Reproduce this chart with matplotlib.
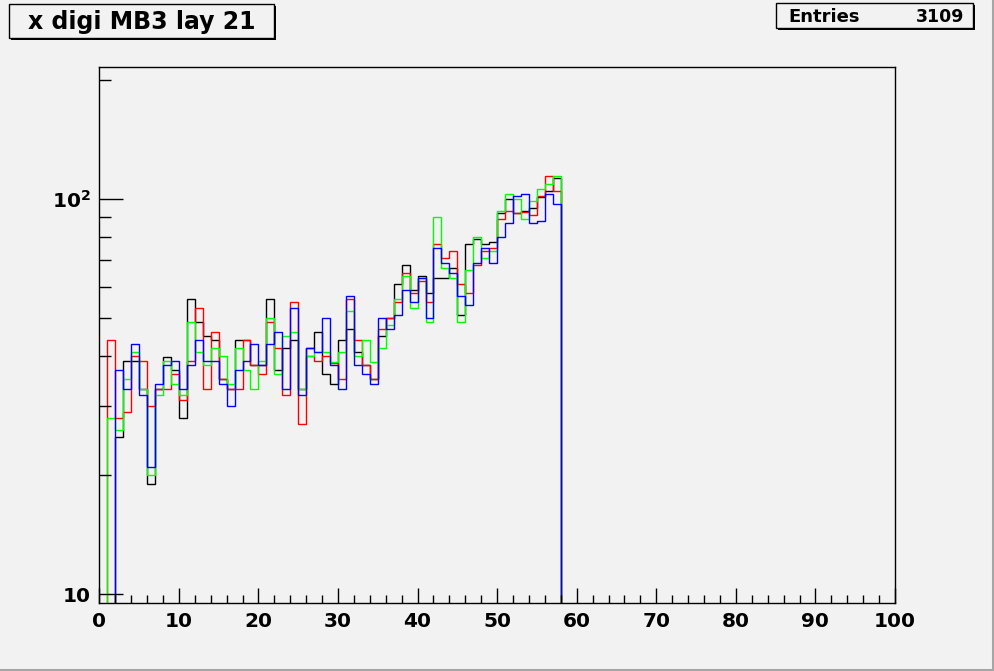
import numpy as np
import matplotlib
matplotlib.use("Agg")
import matplotlib.pyplot as plt
from matplotlib.patches import Rectangle

plt.rcParams['font.family'] = ['DejaVu Sans']
plt.rcParams['mathtext.fontset'] = 'custom'
plt.rcParams['mathtext.bf'] = 'DejaVu Sans:bold'
plt.rcParams['mathtext.rm'] = 'DejaVu Sans:bold'

title = "x digi MB3 lay 21"
entries = 3109
nbins = 100
xmin, xmax = 0, 100

black = [0, 0, 25.0, 38.9, 38.9, 33.0, 19.0, 33.0, 39.9, 36.9, 28.0, 55.8, 48.8, 45.0, 44.0,
         35.0, 33.0, 44.0, 44.0, 38.0, 38.0, 55.8, 36.9, 42.0, 44.0, 33.0, 42.0, 46.1, 36.0,
         34.0, 44.0, 46.9, 41.0, 38.0, 35.0, 45.0, 50.0, 60.9, 68.1, 58.8, 63.9, 57.8, 63.1,
         63.1, 66.9, 50.8, 76.9, 79.2, 76.9, 77.8, 92.2, 100.0, 92.2, 93.2, 94.9, 101.0, 105.0, 113.0]
red = [0, 44.0, 28.0, 28.9, 40.1, 38.9, 29.9, 33.0, 33.1, 36.1, 31.0, 38.9, 53.0, 33.1, 46.1,
       35.0, 33.0, 33.0, 44.0, 38.0, 36.0, 48.8, 42.0, 31.9, 54.9, 26.9, 40.0, 39.0, 40.0,
       38.5, 35.0, 55.8, 44.0, 38.0, 35.0, 46.9, 50.0, 54.9, 65.0, 57.8, 62.0, 54.9, 76.9,
       70.9, 73.9, 60.9, 57.8, 68.1, 73.9, 75.2, 89.0, 93.2, 92.0, 93.0, 91.1, 101.8, 114.3, 104.8]
green = [0, 28.0, 26.0, 35.0, 41.1, 33.1, 20.0, 31.9, 38.9, 34.0, 31.9, 48.8, 41.1, 38.1, 42.0,
         40.0, 34.0, 42.0, 36.9, 33.0, 38.9, 50.0, 36.0, 45.0, 46.1, 33.0, 40.0, 41.0, 41.0,
         38.8, 41.0, 52.1, 40.0, 44.0, 38.8, 42.0, 48.0, 55.8, 63.9, 53.0, 63.0, 48.8, 90.0,
         66.9, 63.1, 48.8, 66.1, 80.1, 70.9, 73.9, 93.2, 103.0, 100.0, 89.0, 98.8, 106.0, 109.1, 114.3]
blue = [0, 0, 36.9, 33.1, 43.0, 31.9, 21.0, 34.0, 38.1, 38.9, 33.1, 38.1, 44.0, 38.9, 38.9,
        34.0, 29.9, 36.9, 38.9, 42.9, 38.0, 42.9, 46.1, 33.0, 53.0, 31.9, 42.0, 41.0, 50.0,
        38.0, 33.0, 56.8, 38.0, 36.0, 34.0, 50.0, 46.9, 50.8, 58.8, 54.9, 63.1, 50.0, 75.2,
        68.9, 65.0, 56.8, 53.9, 68.9, 75.2, 68.9, 80.1, 86.9, 101.8, 103.0, 86.9, 88.0, 103.0, 97.1]

series = [(black, 'black'), (red, '#ff0000'), (green, '#00ff00'), (blue, '#0000ff')]

W, H = 995, 671
bg = '#f2f2f2'
fig = plt.figure(figsize=(W / 100, H / 100), dpi=100, facecolor=bg)

def fx(px):
    return px / W

def fy(py):
    return 1 - py / H

L, R, T, B = 99.3, 895.0, 67.0, 602.7
ax = fig.add_axes([fx(L), fy(B), fx(R) - fx(L), fy(T) - fy(B)], facecolor=bg)

edges = np.linspace(xmin, xmax, nbins + 1)
for vals, col in series:
    v = np.zeros(nbins)
    v[:len(vals)] = vals
    v = np.where(v > 0, v, 1e-2)
    ax.stairs(v, edges, color=col, lw=1.0, baseline=None)

ax.set_yscale('log')
ax.set_xlim(xmin, xmax)
ax.set_ylim(9.52, 216)

for s in ax.spines.values():
    s.set_color('black')
    s.set_linewidth(1.0)

ax.set_xticks(np.arange(0, 101, 10))
ax.set_xticklabels([str(t) for t in range(0, 101, 10)], fontweight='bold', fontsize=14.5)
ax.set_xticks(np.arange(0, 101, 2), minor=True)
ax.set_yticks([10, 100])
ax.set_yticklabels(['10', r'$\mathbf{10^{2}}$'], fontsize=14.5, fontweight='bold')
ax.set_yticks([20, 30, 40, 50, 60, 70, 80, 90, 200], minor=True)
ax.yaxis.set_minor_formatter(matplotlib.ticker.NullFormatter())
ax.tick_params(axis='x', which='major', direction='in', length=11, width=1, pad=7, top=False)
ax.tick_params(axis='x', which='minor', direction='in', length=5.5, width=1, top=False)
ax.tick_params(axis='y', which='major', direction='in', length=17, width=1, pad=6, right=False)
ax.tick_params(axis='y', which='minor', direction='in', length=8.5, width=1, right=False)

def box(x0, y0, x1, y1):
    sh = Rectangle((fx(x0 + 2), fy(y1 + 2)), fx(x1) - fx(x0), fy(y0) - fy(y1),
                   transform=fig.transFigure, facecolor='black', edgecolor='black', lw=0)
    fig.add_artist(sh)
    r = Rectangle((fx(x0), fy(y1)), fx(x1) - fx(x0), fy(y0) - fy(y1),
                  transform=fig.transFigure, facecolor=bg, edgecolor='black', lw=1.0)
    fig.add_artist(r)

box(9, 4, 274, 37.5)
fig.text(fx(142), fy(21.5), title, ha='center', va='center', fontsize=17, fontweight='bold')

box(776.5, 3.5, 973, 28)
fig.text(fx(788), fy(16.5), 'Entries', ha='left', va='center', fontsize=13, fontweight='bold')
fig.text(fx(964), fy(16.5), str(entries), ha='right', va='center', fontsize=12.5, fontweight='bold')

fig.add_artist(plt.Line2D([fx(993.5), fx(993.5)], [fy(0), fy(671)], transform=fig.transFigure, color='#a6a6a6', lw=2.2))
fig.add_artist(plt.Line2D([fx(0), fx(995)], [fy(669.5), fy(669.5)], transform=fig.transFigure, color='#a6a6a6', lw=2.2))

fig.savefig('out.png', dpi=100, facecolor=bg)
